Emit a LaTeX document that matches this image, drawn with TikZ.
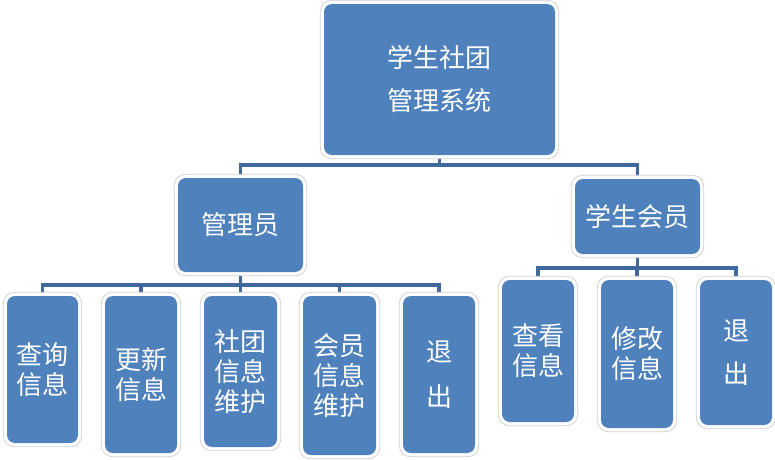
\documentclass[tikz,border=0pt]{standalone}
\usepackage{fontspec}
\newfontfamily\cjk{Noto Sans CJK SC}
\usetikzlibrary{fit}
\definecolor{boxblue}{HTML}{4F81BD}
\definecolor{linkblue}{HTML}{41689C}
\definecolor{rimgray}{HTML}{D2D2D2}
\pgfdeclarelayer{links}
\pgfdeclarelayer{rims}
\pgfsetlayers{links,rims,main}
\tikzset{
  box/.style={fill=boxblue, rounded corners=8pt, text=white,
    font=\cjk\fontsize{26}{30}\selectfont, align=center, inner sep=0pt},
  rim/.style={draw=rimgray, fill=white, line width=0.8pt, rounded corners=11pt, inner sep=3.5pt},
  link/.style={draw=linkblue, line width=3.8pt, line join=miter},
}
\begin{document}
\begin{tikzpicture}[x=1pt,y=-1pt]
\useasboundingbox (0,0) rectangle (775,459);
% level 0
\node[box, minimum width=231pt, minimum height=151pt] (top) at (439.5,79.5) {学生社团\\[13pt]管理系统};
% level 1
\node[box, minimum width=125pt, minimum height=94pt] (admin) at (240.5,225) {管理员};
\node[box, minimum width=125pt, minimum height=75pt] (member) at (637.5,216.5) {学生会员};
% admin children
\node[box, minimum width=71pt, minimum height=147pt] (a1) at (42.5,369.5) {查询\\信息};
\node[box, minimum width=72pt, minimum height=157pt] (a2) at (141,374.5) {更新\\信息};
\node[box, minimum width=73pt, minimum height=151pt] (a3) at (240.5,371.5) {社团\\信息\\维护};
\node[box, minimum width=73pt, minimum height=159pt] (a4) at (339.5,375.5) {会员\\信息\\维护};
\node[box, minimum width=72pt, minimum height=157pt] (a5) at (439,374.5) {退\\[15pt]出};
% member children
\node[box, minimum width=72pt, minimum height=142pt] (m1) at (538,351) {查看\\信息};
\node[box, minimum width=72pt, minimum height=148pt] (m2) at (637,354) {修改\\信息};
\node[box, minimum width=72pt, minimum height=145pt] (m3) at (736,352.5) {退\\[13pt]出};
% rims
\begin{pgfonlayer}{rims}
\foreach \n in {top,admin,member,a1,a2,a3,a4,a5,m1,m2,m3}
  \node[rim, fit=(\n)] (rim-\n) {};
\end{pgfonlayer}
% connectors
\begin{pgfonlayer}{links}
\coordinate (j0) at (439.5,165);
\draw[link] (top.south) -- (j0);
\draw[link] (admin.north) |- (j0) -| (member.north);
\coordinate (j1) at (240.5,285);
\draw[link] (admin.south) -- (j1);
\draw[link] (a1.north) |- (j1) -| (a5.north);
\draw[link] (a2.north) -- (a2.north |- j1);
\draw[link] (a3.north) -- (a3.north |- j1);
\draw[link] (a4.north) -- (a4.north |- j1);
\coordinate (j2) at (637.5,268);
\draw[link] (member.south) -- (j2);
\draw[link] (m1.north) |- (j2) -| (m3.north);
\draw[link] (m2.north) -- (m2.north |- j2);
\end{pgfonlayer}
\end{tikzpicture}
\end{document}
